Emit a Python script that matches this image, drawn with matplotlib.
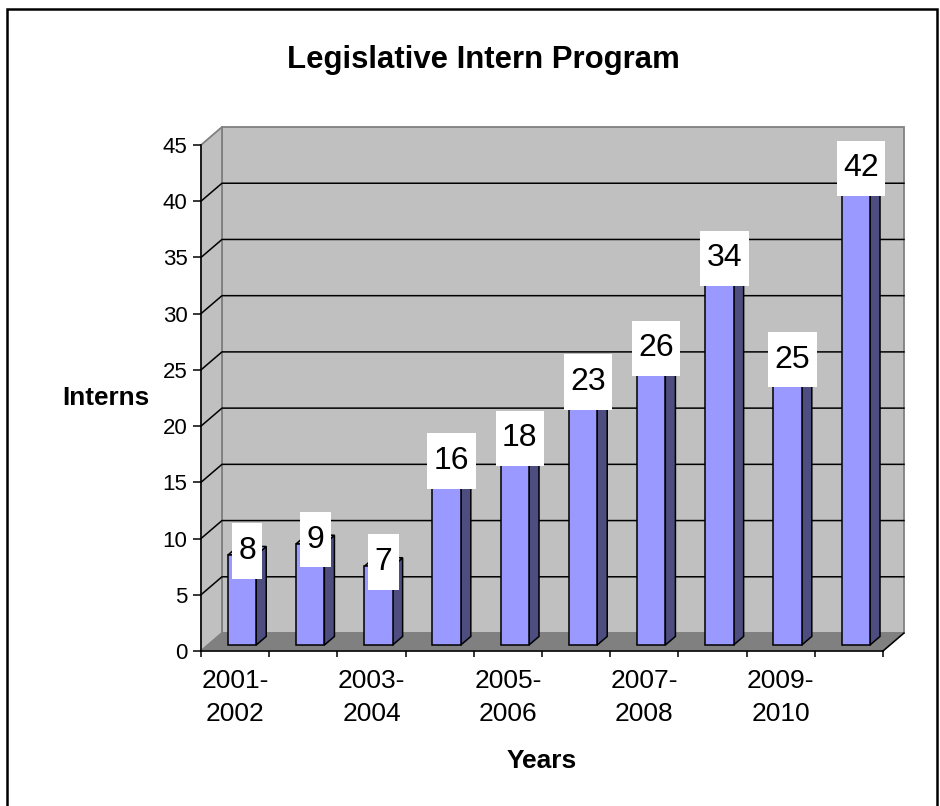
import matplotlib
matplotlib.use('Agg')
import matplotlib.pyplot as plt
from matplotlib.patches import Polygon, Rectangle

plt.rcParams['font.family'] = ['Liberation Sans', 'DejaVu Sans']

# data
years = ['2001-2002', '2002-2003', '2003-2004', '2004-2005', '2005-2006',
         '2006-2007', '2007-2008', '2008-2009', '2009-2010', '2010-2011']
interns = [8, 9, 7, 16, 18, 23, 26, 34, 25, 42]
y_ticks = [0, 5, 10, 15, 20, 25, 30, 35, 40, 45]

# fake 3D look (offsets in data units)
DX = 0.308    # depth shift along x (categories)
DY = 1.6      # depth shift along y (interns)
BAR_W = 0.415
FRONT = 0.33  # where the bar front face sits in the depth
DEPTH = 0.48  # bar depth

n = len(years)
ymax = y_ticks[-1]

fig = plt.figure(figsize=(9.4, 8.06), dpi=100)
ax = fig.add_axes([0.2138, 0.1923, 0.7255, 0.6278])
ax.set_xlim(0, n)
ax.set_ylim(0, ymax)
ax.patch.set_visible(False)


def poly(pts, fc, ec, lw=1.1, z=1):
    ax.add_patch(Polygon(pts, closed=True, facecolor=fc, edgecolor=ec,
                         linewidth=lw, zorder=z, clip_on=False))


# walls and floor
poly([(DX, DY), (n + DX, DY), (n + DX, ymax + DY), (DX, ymax + DY)], '#C0C0C0', '#808080', 1.3, 0)
poly([(0, 0), (DX, DY), (DX, ymax + DY), (0, ymax)], '#C0C0C0', '#808080', 1.3, 0)
poly([(0, 0), (n, 0), (n + DX, DY), (DX, DY)], '#808080', '#808080', 1.0, 0.5)
ax.plot([n, n + DX], [0, DY], color='black', lw=1.1, zorder=1, clip_on=False)

# gridlines on side wall and back wall
for v in y_ticks[1:-1]:
    ax.plot([0, DX, n + DX], [v, v + DY, v + DY], color='black', lw=1.1,
            zorder=1, clip_on=False)

# bars
for i, v in enumerate(interns):
    x0 = i + 0.5 - BAR_W / 2 + FRONT * DX
    x1 = x0 + BAR_W
    y0 = FRONT * DY
    ddx, ddy = DEPTH * DX, DEPTH * DY
    poly([(x1, y0), (x1 + ddx, y0 + ddy), (x1 + ddx, v + y0 + ddy), (x1, v + y0)], '#4D4D80', 'black', 1.1, 3)
    poly([(x0, v + y0), (x1, v + y0), (x1 + ddx, v + y0 + ddy), (x0 + ddx, v + y0 + ddy)], '#A6A6FF', 'black', 1.1, 3)
    poly([(x0, y0), (x1, y0), (x1, v + y0), (x0, v + y0)], '#9999FF', 'black', 1.1, 3)
    ax.text(i + 0.5 + (FRONT + DEPTH / 2) * DX, v + (FRONT + DEPTH / 2) * DY, str(v),
            ha='center', va='center', fontsize=23, zorder=5,
            bbox=dict(boxstyle='square,pad=0.2', fc='white', ec='none',
                      mutation_aspect=2.0))

# axes
ax.spines['top'].set_visible(False)
ax.spines['right'].set_visible(False)
ax.spines['left'].set_linewidth(1.1)
ax.spines['bottom'].set_linewidth(1.1)
ax.spines['left'].set_zorder(2)
ax.spines['bottom'].set_zorder(2)

ax.set_yticks(y_ticks)
ax.tick_params(axis='y', direction='out', length=5.8, width=1.1, pad=4.0, labelsize=16)

ax.set_xticks(range(n + 1))
ax.set_xticklabels([])
ax.tick_params(axis='x', which='major', direction='out', length=4.3, width=1.1)
ax.set_xticks([i + 0.5 for i in range(n)], minor=True)
xlabels = [y.replace('-', '-\n') if i % 2 == 0 else '' for i, y in enumerate(years)]
ax.set_xticklabels(xlabels, minor=True, fontsize=19, linespacing=1.45)
ax.tick_params(axis='x', which='minor', length=0, pad=13)

# titles
fig.text(483 / 940, 1 - 68.3 / 806, 'Legislative Intern Program', ha='center',
         va='baseline', fontsize=22.4, fontweight='bold')
fig.text(105.5 / 940, 1 - 405 / 806, 'Interns', ha='center', va='baseline',
         fontsize=18.8, fontweight='bold')
fig.text(541.7 / 940, 1 - 768 / 806, 'Years', ha='center', va='baseline',
         fontsize=19, fontweight='bold')

# chart border
fig.patches.append(Rectangle((7 / 940, -0.05), 930 / 940, 1 - 9 / 806 + 0.05,
                             transform=fig.transFigure, fill=False,
                             edgecolor='black', linewidth=1.8))

fig.savefig('out.png', dpi=100)
